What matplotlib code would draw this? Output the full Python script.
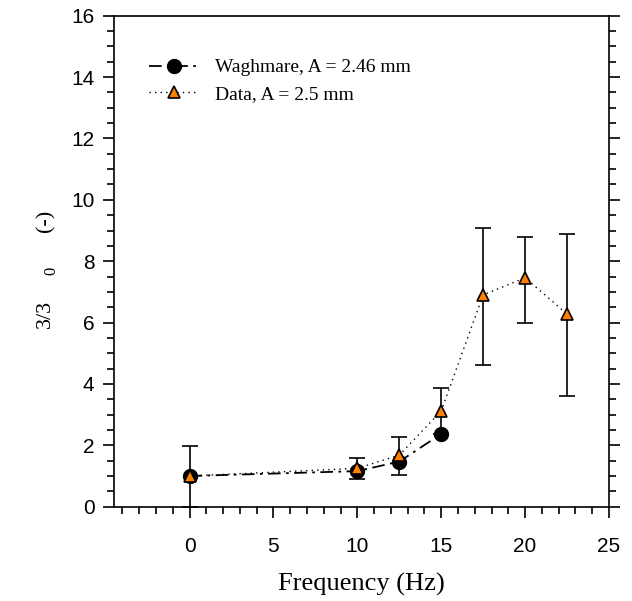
import matplotlib
matplotlib.use('Agg')
import matplotlib.pyplot as plt
from matplotlib.ticker import MultipleLocator
from matplotlib.lines import Line2D

# Waghmare, A = 2.46 mm
freq_w = [0, 10, 12.5, 15]
ratio_w = [1.0, 1.16, 1.47, 2.37]

# Data, A = 2.5 mm
freq_d = [0, 10, 12.5, 15, 17.5, 20, 22.5]
ratio_d = [1.0, 1.25, 1.68, 3.12, 6.9, 7.46, 6.28]
err_low = [1.0, 0.35, 0.65, 0.75, 2.28, 1.47, 2.68]
err_high = [0.99, 0.35, 0.59, 0.76, 2.19, 1.34, 2.6]

plt.rcParams['font.family'] = 'Liberation Sans'
fig = plt.figure(figsize=(6.32, 6.01), dpi=100)
ax = fig.add_axes([0.1804, 0.1569, 0.7832, 0.817])

w_style = dict(color='black', linestyle=(0, (7, 3, 1.5, 3)), lw=1.3,
               marker='o', markersize=10, markerfacecolor='black',
               markeredgecolor='black')
d_style = dict(color='black', linestyle=(0, (1, 3)), lw=1.0,
               marker='^', markersize=9, markerfacecolor='#ff8000',
               markeredgecolor='black', markeredgewidth=1.2)

ax.plot(freq_w, ratio_w, zorder=3, **w_style)
ax.errorbar(freq_d, ratio_d, yerr=[err_low, err_high], elinewidth=1.2,
            capsize=5.5, capthick=1.2, zorder=4, **d_style)

ax.set_xlim(-4.5, 25)
ax.set_ylim(0, 16)
ax.xaxis.set_major_locator(MultipleLocator(5))
ax.xaxis.set_minor_locator(MultipleLocator(1))
ax.yaxis.set_major_locator(MultipleLocator(2))
ax.yaxis.set_minor_locator(MultipleLocator(0.5))
ax.set_xticks([0, 5, 10, 15, 20, 25])
ax.tick_params(which='both', direction='out', labelsize=15, width=1.2)
ax.tick_params(which='major', length=8)
ax.tick_params(which='minor', length=5)
ax.tick_params(axis='y', which='both', right=True, left=True)
ax.tick_params(axis='x', pad=14)
ax.tick_params(axis='y', pad=6)
for s in ax.spines.values():
    s.set_linewidth(1.2)

ax.set_xlabel('Frequency (Hz)', fontfamily='Liberation Serif', fontsize=19,
              labelpad=12)

fig.text(0.072, 0.478, '3/3', rotation=90, fontfamily='Liberation Serif',
         fontsize=16, ha='center', va='center')
fig.text(0.082, 0.549, '0', rotation=90, fontfamily='Liberation Serif',
         fontsize=12, ha='center', va='center')
fig.text(0.072, 0.633, '(-)', rotation=90, fontfamily='Liberation Serif',
         fontsize=16, ha='center', va='center')

handles = [Line2D([], [], **w_style), Line2D([], [], **d_style)]
labels = ['Waghmare, A = 2.46 mm', 'Data, A = 2.5 mm']
ax.legend(handles, labels, loc='upper left', bbox_to_anchor=(0.035, 0.948),
          frameon=False, prop={'family': 'Liberation Serif', 'size': 14},
          handlelength=2.6, handletextpad=0.8, labelspacing=0.45)

fig.savefig('out.png', dpi=100)
